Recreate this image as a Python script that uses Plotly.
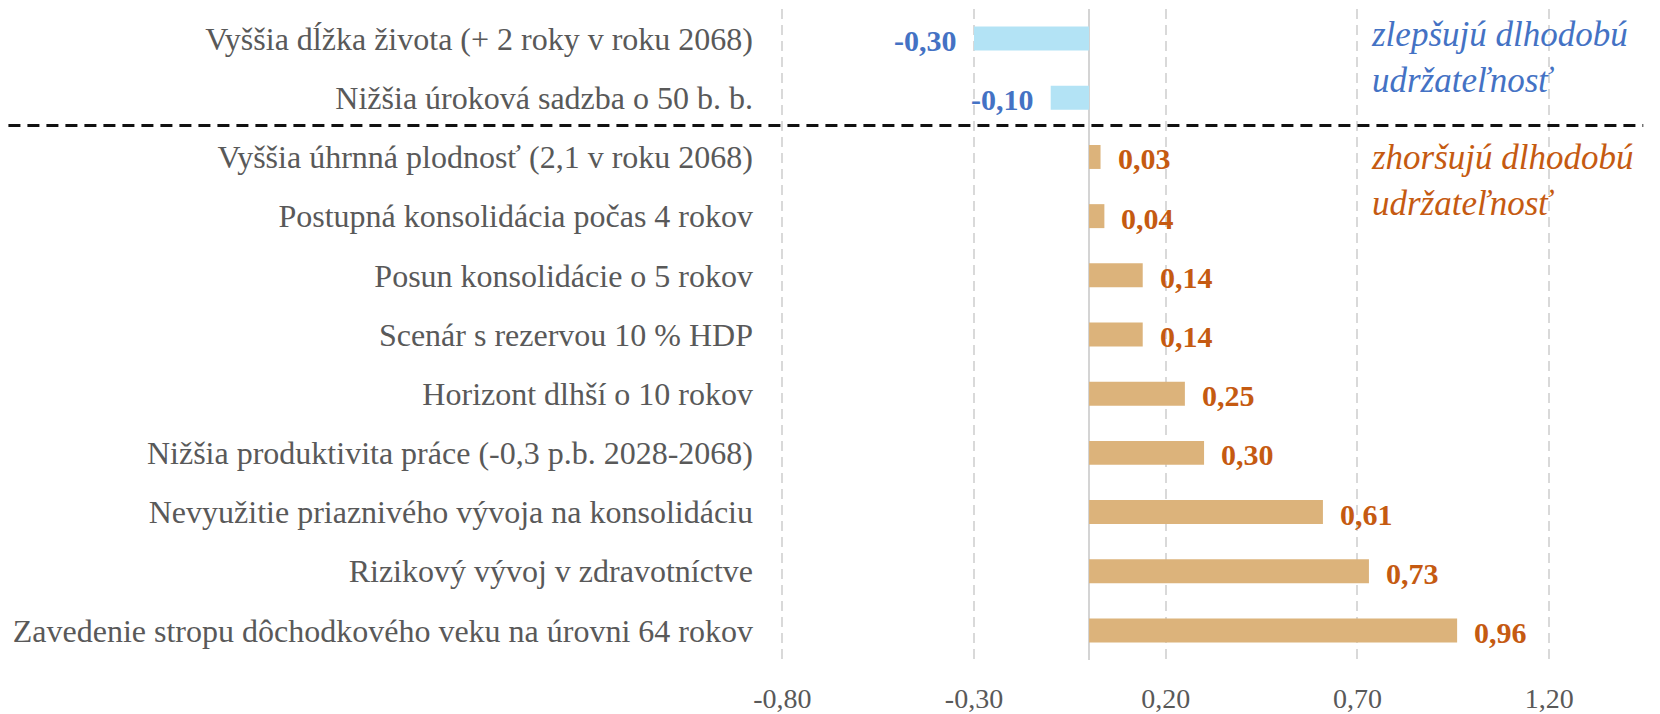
import plotly.graph_objects as go

# scenarios, top to bottom as in the chart
categories = [
    "Vyššia dĺžka života (+ 2 roky v roku 2068)",
    "Nižšia úroková sadzba o 50 b. b.",
    "Vyššia úhrnná plodnosť (2,1 v roku 2068)",
    "Postupná konsolidácia počas 4 rokov",
    "Posun konsolidácie o 5 rokov",
    "Scenár s rezervou 10 % HDP",
    "Horizont dlhší o 10 rokov",
    "Nižšia produktivita práce (-0,3 p.b. 2028-2068)",
    "Nevyužitie priaznivého vývoja na konsolidáciu",
    "Rizikový vývoj v zdravotníctve",
    "Zavedenie stropu dôchodkového veku na úrovni 64 rokov",
]
values = [-0.30, -0.10, 0.03, 0.04, 0.14, 0.14, 0.25, 0.30, 0.61, 0.73, 0.96]

x_ticks = [-0.80, -0.30, 0.20, 0.70, 1.20]
note_better = "zlepšujú dlhodobú<br>udržateľnosť"
note_worse = "zhoršujú dlhodobú<br>udržateľnosť"

BLUE_BAR = "#b3e3f5"
BLUE_TXT = "#4472c4"
ORANGE_BAR = "#dcb37b"
ORANGE_TXT = "#c55a11"
GREY = "#595959"
FONT = "Liberation Serif"


def fmt(v):
    # Slovak decimal comma, plain hyphen for minus
    return f"{v:.2f}".replace(".", ",")


bar_colors = [BLUE_BAR if v < 0 else ORANGE_BAR for v in values]

fig = go.Figure()
fig.add_trace(go.Bar(
    x=values,
    y=categories,
    orientation="h",
    marker=dict(color=bar_colors, line=dict(width=0)),
    hoverinfo="x+y",
    showlegend=False,
))

# value labels just outside the bar ends
for cat, v in zip(categories, values):
    neg = v < 0
    fig.add_annotation(
        x=v, y=cat, xref="x", yref="y",
        text=fmt(v),
        showarrow=False,
        xanchor="right" if neg else "left",
        xshift=-15 if neg else 15,
        yshift=-2,
        font=dict(family=FONT, size=30, color=BLUE_TXT if neg else ORANGE_TXT, weight="bold"),
    )

# side notes
fig.add_annotation(
    x=0.681, y=0.925, xref="paper", yref="paper",
    text=note_better, showarrow=False, xanchor="left", yanchor="middle", align="left",
    font=dict(family=FONT, size=35, color=BLUE_TXT, style="italic"),
)
fig.add_annotation(
    x=0.681, y=0.736, xref="paper", yref="paper",
    text=note_worse, showarrow=False, xanchor="left", yanchor="middle", align="left",
    font=dict(family=FONT, size=35, color=ORANGE_TXT, style="italic"),
)

# dashed separator between the two groups
fig.add_shape(
    type="line", xref="paper", yref="paper",
    x0=-0.892, x1=0.998, y0=0.821, y1=0.821,
    line=dict(color="#111111", width=3, dash="12px,7px"),
)

fig.update_xaxes(
    range=[-0.806, 1.45],
    tickvals=x_ticks,
    ticktext=[fmt(t) for t in x_ticks],
    showgrid=True,
    gridcolor="#d9d9d9",
    gridwidth=2,
    griddash="10px,6px",
    zeroline=True,
    zerolinecolor="#d4d4d4",
    zerolinewidth=2,
    showline=False,
    ticks="",
    automargin=False,
    ticklabelstandoff=19,
    tickfont=dict(family=FONT, size=28, color=GREY),
)
fig.update_yaxes(
    autorange="reversed",
    showgrid=False,
    showline=False,
    ticks="",
    automargin=False,
    ticklabelstandoff=26,
    tickfont=dict(family=FONT, size=32, color=GREY),
)

fig.update_layout(
    width=1660,
    height=714,
    margin=dict(l=772, r=23, t=1, b=62),
    bargap=0.595,
    separators=", ",
    paper_bgcolor="white",
    plot_bgcolor="white",
    font=dict(family=FONT, color=GREY),
)

fig.write_html("out.html")
